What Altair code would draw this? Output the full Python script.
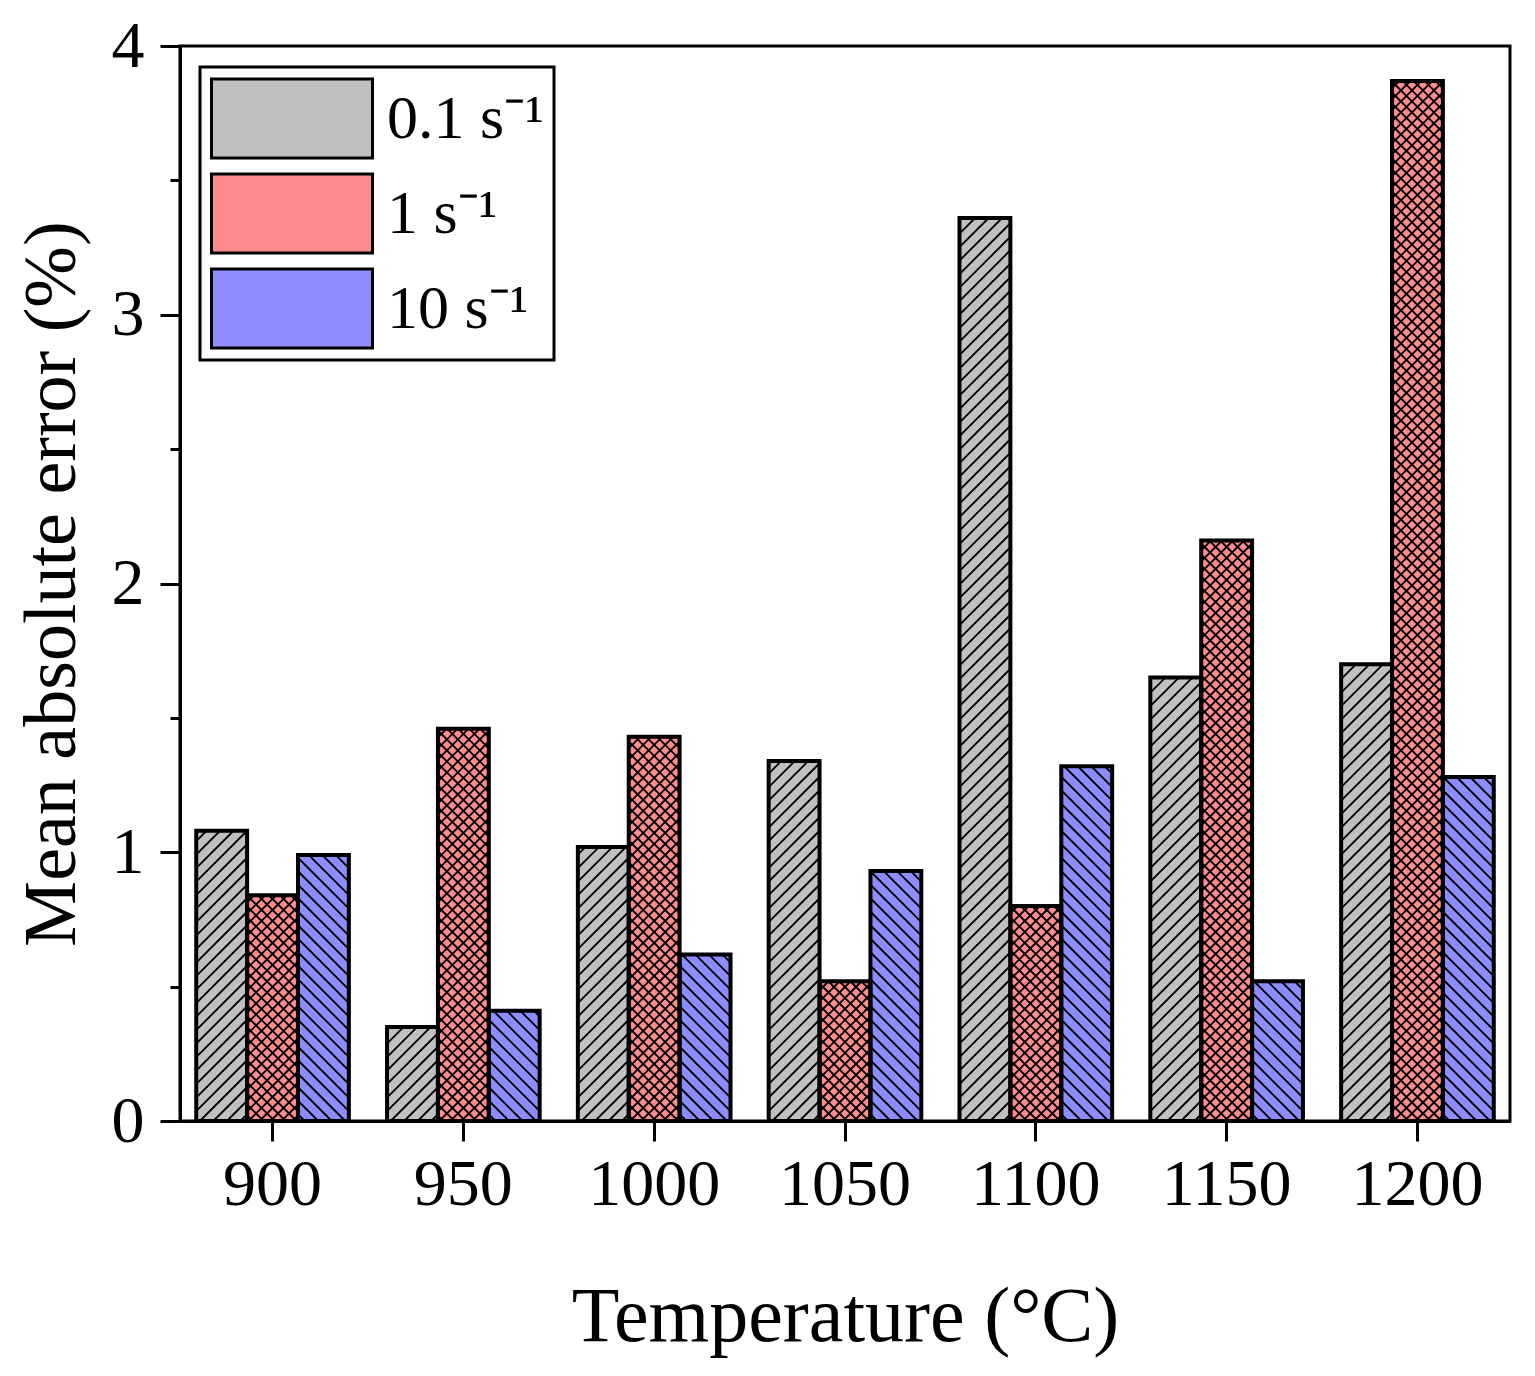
import altair as alt
import pandas as pd

temps = ["900", "950", "1000", "1050", "1100", "1150", "1200"]
rates = ["0.1 s⁻¹", "1 s⁻¹", "10 s⁻¹"]
mae_01 = [1.08, 0.35, 1.02, 1.34, 3.36, 1.65, 1.70]
mae_1 = [0.84, 1.46, 1.43, 0.52, 0.80, 2.16, 3.87]
mae_10 = [0.99, 0.41, 0.62, 0.93, 1.32, 0.52, 1.28]
patterns = ["fwd", "cross", "back"]
hatch_spacing = [13.5, 11, 13.5]
colors = ["#c0c0c0", "#ff8c8c", "#8c8cff"]
y_ticks = [0, 0.5, 1, 1.5, 2, 2.5, 3, 3.5, 4]

rows = []
for series, pat, sp, vals in zip(rates, patterns, hatch_spacing, [mae_01, mae_1, mae_10]):
    for t, v in zip(temps, vals):
        rows.append({"temp": t, "rate": series, "mae": v, "pattern": pat, "sp": sp})
df = pd.DataFrame(rows)

FONT = "Liberation Serif"

x_enc = alt.X(
    "temp:N",
    sort=temps,
    scale=alt.Scale(paddingInner=0.2, paddingOuter=0.085),
    axis=alt.Axis(
        title="Temperature (°C)",
        labelAngle=0,
        tickSize=20,
        labelPadding=11,
        titlePadding=61,
        labelFontSize=66,
        titleFontSize=78,
    ),
)
xoff_enc = alt.XOffset(
    "rate:N", sort=rates, scale=alt.Scale(paddingInner=0, paddingOuter=0)
)
y_enc = alt.Y(
    "mae:Q",
    scale=alt.Scale(domain=[0, 4], nice=False),
    axis=alt.Axis(
        title="Mean absolute error (%)",
        values=y_ticks,
        labelExpr="datum.value % 1 === 0 ? format(datum.value, 'd') : ''",
        tickSize={"condition": {"test": "datum.value % 1 === 0", "value": 20}, "value": 10},
        labelPadding=16,
        titlePadding=21,
        labelFontSize=66,
        titleFontSize=74,
    ),
)

fill_layer = alt.Chart(df).mark_bar(strokeWidth=0, opacity=1).encode(
    x=x_enc,
    xOffset=xoff_enc,
    y=y_enc,
    color=alt.Color(
        "rate:N",
        sort=rates,
        scale=alt.Scale(domain=rates, range=colors),
        legend=alt.Legend(
            title=None,
            orient="none",
            legendX=20,
            legendY=21,
            padding=10,
            strokeColor="black",
            fillColor="white",
            symbolType="M-1,-0.49L1,-0.49L1,0.49L-1,0.49Z",
            symbolSize=25921,
            symbolStrokeColor="black",
            symbolStrokeWidth=3,
            symbolOpacity=1,
            clipHeight=83,
            rowPadding=12,
            labelFont=FONT,
            labelFontSize=62,
            labelOffset=13,
            labelLimit=500,
            labelColor="black",
        ),
    ),
)

# hatch lines, positioned through the chart's own scales
x0 = "(scale('x', datum.temp) + scale('xOffset', datum.rate))"
w = "bandwidth('xOffset')"
yb = "scale('y', 0)"
h = "(scale('y', 0) - scale('y', datum.mae))"
c = "((datum.k + 0.5) * datum.sp)"
xa = f"(datum.d > 0 ? max(0, {w} - {c}) : max(0, {c} - {h}))"
xb = f"(datum.d > 0 ? min({w}, {w} + {h} - {c}) : min({w}, {c}))"
ya = f"(datum.d > 0 ? {xa} + {c} - {w} : {c} - {xa})"
ybb = f"(datum.d > 0 ? {xb} + {c} - {w} : {c} - {xb})"

hatch_layer = (
    alt.Chart(df)
    .transform_calculate(k="sequence(0, 110)")
    .transform_flatten(["k"])
    .transform_calculate(
        d="datum.pattern === 'cross' ? [1, -1] : (datum.pattern === 'fwd' ? [1] : [-1])"
    )
    .transform_flatten(["d"])
    .mark_rule(color="black", strokeWidth=1.8)
    .encode(
        x=alt.value({"expr": f"{x0} + {xa}"}),
        x2=alt.value({"expr": f"{x0} + {xb}"}),
        y=alt.value({"expr": f"{yb} - {ya}"}),
        y2=alt.value({"expr": f"{yb} - {ybb}"}),
        strokeOpacity=alt.value({"expr": f"{c} < {w} + {h} ? 1 : 0"}),
    )
)

outline_layer = alt.Chart(df).mark_bar(
    stroke="black", strokeWidth=4, fillOpacity=0, color="white"
).encode(
    x=x_enc,
    xOffset=xoff_enc,
    y=y_enc,
)

chart = alt.layer(fill_layer, hatch_layer, outline_layer).properties(
    width=1330,
    height=1075,
    autosize=alt.AutoSizeParams(type="none"),
    padding={"left": 172, "top": 38, "right": 15, "bottom": 240},
).configure_view(
    stroke="black", strokeWidth=3
).configure_axis(
    domainColor="black",
    domainWidth=3,
    tickColor="black",
    tickWidth=3,
    labelColor="black",
    titleColor="black",
    labelFont=FONT,
    titleFont=FONT,
    titleFontWeight="normal",
    grid=False,
).configure_legend(
    strokeWidth=3
)

chart.save("out.html", embed_options={"renderer": "svg", "actions": False})
